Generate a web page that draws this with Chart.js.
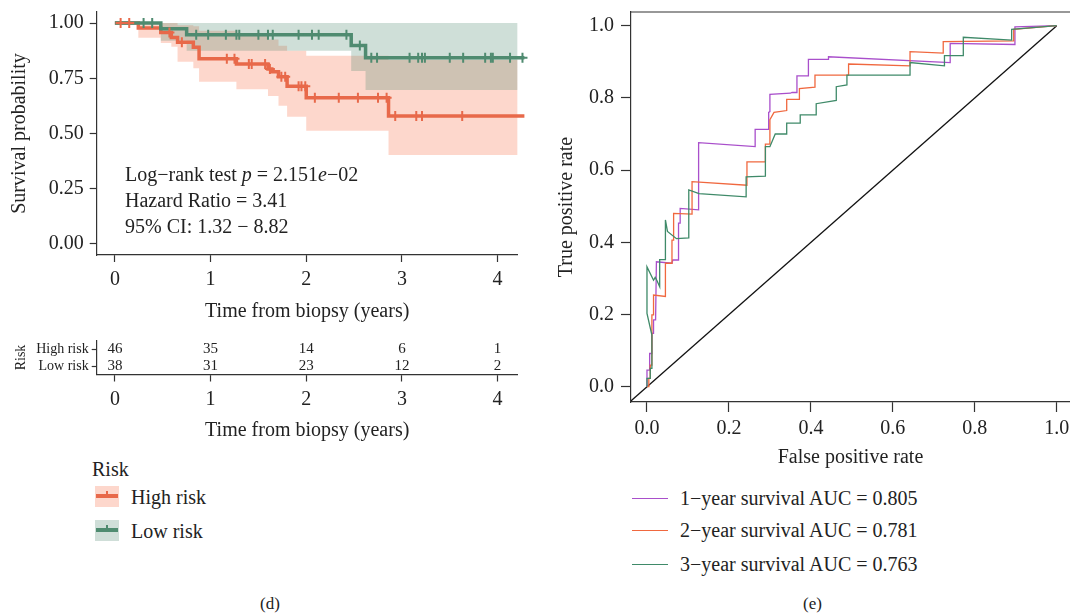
<!DOCTYPE html>
<html>
<head>
<meta charset="utf-8">
<script src="https://cdn.jsdelivr.net/npm/chart.js@4.4.0/dist/chart.umd.min.js"></script>
<style>
body{margin:0;background:#fff;width:1070px;height:616px;position:relative;overflow:hidden;font-family:"Liberation Serif",serif;color:#222}
canvas{position:absolute}
.t{position:absolute;white-space:nowrap;font-size:20px;line-height:20px}
.sw{position:absolute;width:24px;height:21px}
</style>
</head>
<body>
<canvas id="km" width="540" height="330" style="left:0;top:0"></canvas>
<canvas id="risk" width="540" height="120" style="left:0;top:330px"></canvas>
<canvas id="roc" width="515" height="470" style="left:555px;top:0"></canvas>

<div class="t" style="left:125px;top:164px">Log−rank test <i>p</i> = 2.151<i>e</i>−02</div>
<div class="t" style="left:125px;top:190px">Hazard Ratio = 3.41</div>
<div class="t" style="left:125px;top:216px">95% CI: 1.32 − 8.82</div>

<div class="t" style="left:92px;top:459px">Risk</div>
<div class="sw" style="left:95px;top:486px;background:rgb(253,215,204)">
  <div style="position:absolute;left:1px;right:1px;top:8px;height:4px;background:#E8694A"></div>
  <div style="position:absolute;left:11px;top:5px;width:2px;height:7px;background:#E8694A"></div>
</div>
<div class="t" style="left:131px;top:487px">High risk</div>
<div class="sw" style="left:95px;top:520px;background:rgb(207,222,216)">
  <div style="position:absolute;left:1px;right:1px;top:8px;height:4px;background:#4F8B70"></div>
  <div style="position:absolute;left:11px;top:5px;width:2px;height:7px;background:#4F8B70"></div>
</div>
<div class="t" style="left:131px;top:521px">Low risk</div>

<div style="position:absolute;left:632px;top:498px;width:36px;height:1.3px;background:#A94FCB"></div>
<div style="position:absolute;left:632px;top:530px;width:36px;height:1.3px;background:#F0683F"></div>
<div style="position:absolute;left:632px;top:564px;width:36px;height:1.3px;background:#3F8A69"></div>
<div class="t" style="left:680px;top:488px">1−year survival AUC = 0.805</div>
<div class="t" style="left:680px;top:520px">2−year survival AUC = 0.781</div>
<div class="t" style="left:680px;top:554px">3−year survival AUC = 0.763</div>

<div class="t" style="left:260px;top:594px;font-size:17px">(d)</div>
<div class="t" style="left:803px;top:594px;font-size:17px">(e)</div>

<script>
// Kaplan-Meier curves (time in years, survival probability after each step)
const highTimes = [0, 0.245, 0.48, 0.59, 0.655, 0.82, 0.88, 1.27, 1.60, 1.64, 1.71, 1.80, 2.00, 2.86, 4.28];
const highSurv  = [1, 0.978, 0.957, 0.935, 0.913, 0.89, 0.838, 0.815, 0.792, 0.78, 0.757, 0.714, 0.662, 0.579, 0.579];
const highCensor = [0.06, 0.15, 0.57, 0.70, 1.17, 1.25, 1.40, 1.43, 1.57, 1.62, 1.74, 1.78, 1.92, 1.95, 1.99,
                    2.09, 2.34, 2.54, 2.75, 2.84, 2.93, 3.15, 3.21, 3.63];
const highCiTimes = [0, 0.245, 0.48, 0.59, 0.655, 0.82, 0.88, 1.27, 1.60, 1.71, 1.80, 2.00, 2.86, 4.21];
const highCiUpper = [1, 1, 1, 1, 0.99, 0.985, 0.965, 0.95, 0.925, 0.897, 0.875, 0.852, 0.833, 0.833];
const highCiLower = [1, 0.934, 0.91, 0.893, 0.825, 0.795, 0.734, 0.70, 0.67, 0.626, 0.576, 0.513, 0.403, 0.403];

const lowTimes = [0, 0.48, 0.75, 2.47, 2.62, 4.28];
const lowSurv  = [1, 0.974, 0.947, 0.898, 0.843, 0.843];
const lowCensor = [0.30, 0.39, 0.85, 0.975, 1.16, 1.27, 1.30, 1.50, 1.60, 1.65, 1.92, 2.06, 2.13, 2.42, 2.56,
                   2.68, 2.74, 3.08, 3.17, 3.21, 3.24, 3.50, 3.64, 3.87, 3.93, 3.95, 4.13, 4.26];
const lowCiTimes = [0, 0.48, 0.75, 2.47, 2.62, 4.21];
const lowCiUpper = [1, 1, 1, 1, 1, 1];
const lowCiLower = [1, 0.92, 0.875, 0.783, 0.697, 0.697];

const kmXTicks = [0, 1, 2, 3, 4];
const kmYTicks = [0, 0.25, 0.5, 0.75, 1];

// numbers at risk
const riskGroups = ['High risk', 'Low risk'];
const riskTimes = [0, 1, 2, 3, 4];
const riskHigh = [46, 35, 14, 6, 1];
const riskLow = [38, 31, 23, 12, 2];

// time-dependent ROC curves
const roc1Fpr = [0, 0, 0.0065, 0.0065, 0.012, 0.012, 0.016, 0.016, 0.021, 0.023, 0.061, 0.063, 0.077, 0.077, 0.081, 0.081,
  0.126, 0.126, 0.264, 0.264, 0.297, 0.297, 0.30, 0.30, 0.35, 0.354, 0.366, 0.366, 0.394, 0.394, 0.443, 0.443, 0.74, 0.74,
  0.898, 0.898, 1];
const roc1Tpr = [0, 0.046, 0.046, 0.092, 0.092, 0.148, 0.148, 0.185, 0.185, 0.346, 0.342, 0.351, 0.351, 0.453, 0.453, 0.494,
  0.49, 0.676, 0.665, 0.713, 0.713, 0.76, 0.762, 0.81, 0.813, 0.815, 0.815, 0.861, 0.861, 0.907, 0.907, 0.914, 0.898, 0.951,
  0.948, 0.997, 1];
const roc2Fpr = [0, 0.0045, 0.0045, 0.008, 0.008, 0.012, 0.012, 0.016, 0.016, 0.045, 0.045, 0.061, 0.061, 0.065, 0.065, 0.11,
  0.11, 0.244, 0.244, 0.289, 0.289, 0.30, 0.30, 0.31, 0.341, 0.341, 0.372, 0.372, 0.41, 0.41, 0.492, 0.492, 0.642, 0.642,
  0.723, 0.723, 0.895, 0.895, 1];
const roc2Tpr = [0, 0, 0.023, 0.023, 0.06, 0.06, 0.199, 0.199, 0.254, 0.25, 0.342, 0.342, 0.406, 0.406, 0.48, 0.478,
  0.568, 0.558, 0.623, 0.623, 0.672, 0.672, 0.74, 0.76, 0.765, 0.796, 0.796, 0.826, 0.83, 0.863, 0.863, 0.894, 0.889, 0.928,
  0.924, 0.956, 0.958, 0.99, 1];
const roc3Fpr = [0, 0, 0.008, 0.008, 0.012, 0.012, 0, 0, 0.016, 0.02, 0.024, 0.031, 0.031, 0.045, 0.045, 0.05, 0.072,
  0.102, 0.102, 0.127, 0.242, 0.242, 0.289, 0.289, 0.30, 0.313, 0.341, 0.341, 0.374, 0.374, 0.413, 0.413, 0.462, 0.462,
  0.488, 0.488, 0.642, 0.642, 0.726, 0.726, 0.772, 0.772, 0.89, 0.89, 1];
const roc3Tpr = [0, 0.023, 0.023, 0.051, 0.051, 0.143, 0.203, 0.332, 0.295, 0.303, 0.295, 0.277, 0.352, 0.352, 0.462,
  0.43, 0.41, 0.412, 0.545, 0.535, 0.526, 0.581, 0.583, 0.665, 0.665, 0.70, 0.70, 0.73, 0.73, 0.753, 0.753, 0.784, 0.793,
  0.831, 0.836, 0.863, 0.863, 0.898, 0.889, 0.917, 0.917, 0.968, 0.96, 0.99, 1];
const rocTicks = [0, 0.2, 0.4, 0.6, 0.8, 1.0];

const RED = '#E8694A', GREEN = '#4F8B70';
const TXT = '#222', AX = '#333';
const FONT = '"Liberation Serif", serif';

function pts(xs, ys) { return xs.map((x, i) => ({x: x, y: ys[i]})); }
function survAt(times, surv, t) {
  let s = surv[0];
  for (let i = 0; i < times.length; i++) if (times[i] <= t) s = surv[i];
  return s;
}
function censorPts(cens, times, surv) { return cens.map(t => ({x: t, y: survAt(times, surv, t)})); }

Chart.defaults.font.family = FONT;
Chart.defaults.color = TXT;
Chart.defaults.animation = false;

// keep the plot box where the layout padding puts it (no extra room for end labels)
function noPad(s) { s.paddingLeft = 0; s.paddingRight = 0; s.paddingTop = 0; s.paddingBottom = 0; }

function axisX(min, max, ticks, fmt, tickLen, pad, titleText, titlePad, h) {
  return {
    type: 'linear', min: min, max: max,
    afterBuildTicks: a => { a.ticks = ticks.map(v => ({value: v})); },
    afterFit: s => { s.height = h; noPad(s); },
    grid: {drawOnChartArea: false, tickLength: tickLen, tickColor: AX, tickWidth: 1.2},
    border: {color: AX, width: 1.2},
    ticks: {font: {size: 20}, color: TXT, padding: pad, maxRotation: 0, autoSkip: false, callback: fmt},
    title: {display: true, text: titleText, font: {size: 20}, color: TXT, padding: {top: 0, bottom: titlePad}}
  };
}
function axisY(min, max, ticks, fmt, tickLen, pad, titleText, titlePad, w) {
  return {
    type: 'linear', min: min, max: max,
    afterBuildTicks: a => { a.ticks = ticks.map(v => ({value: v})); },
    afterFit: s => { s.width = w; noPad(s); },
    grid: {drawOnChartArea: false, tickLength: tickLen, tickColor: AX, tickWidth: 1.2},
    border: {color: AX, width: 1.2},
    ticks: {font: {size: 20}, color: TXT, padding: pad, autoSkip: false, callback: fmt},
    title: {display: true, text: titleText, font: {size: 20}, color: TXT, padding: {top: titlePad, bottom: 0}}
  };
}

// ---- Kaplan-Meier panel ----
new Chart(document.getElementById('km'), {
  type: 'line',
  data: {
    datasets: [
      {data: pts(highCiTimes, highCiUpper), stepped: true, fill: '+1', backgroundColor: 'rgba(250,130,95,0.32)',
       borderWidth: 0, pointRadius: 0, order: 10},
      {data: pts(highCiTimes, highCiLower), stepped: true, fill: false, borderWidth: 0, pointRadius: 0, order: 10},
      {data: pts(lowCiTimes, lowCiUpper), stepped: true, fill: '+1', backgroundColor: 'rgba(70,130,105,0.26)',
       borderWidth: 0, pointRadius: 0, order: 9},
      {data: pts(lowCiTimes, lowCiLower), stepped: true, fill: false, borderWidth: 0, pointRadius: 0, order: 9},
      {data: pts(highTimes, highSurv), stepped: true, borderColor: RED, borderWidth: 3.5, pointRadius: 0,
       fill: false, clip: false, order: 4},
      {data: pts(lowTimes, lowSurv), stepped: true, borderColor: GREEN, borderWidth: 3.5, pointRadius: 0,
       fill: false, clip: false, order: 3},
      {data: censorPts(highCensor, highTimes, highSurv), showLine: false, pointStyle: 'cross', pointRadius: 5,
       pointBorderWidth: 2, pointBorderColor: RED, clip: false, order: 2},
      {data: censorPts(lowCensor, lowTimes, lowSurv), showLine: false, pointStyle: 'cross', pointRadius: 5,
       pointBorderWidth: 2, pointBorderColor: GREEN, clip: false, order: 1}
    ]
  },
  options: {
    responsive: false,
    layout: {padding: {top: 12, right: 22.3, left: 0, bottom: 0}},
    plugins: {legend: {display: false}, tooltip: {enabled: false}},
    scales: {
      x: axisX(-0.19, 4.21, kmXTicks, v => String(v), 7, 6, 'Time from biopsy (years)', 6, 75),
      y: axisY(-0.05, 1.05, kmYTicks, v => v.toFixed(2), 7, 6, 'Survival probability', 8, 96.7)
    }
  }
});

// ---- numbers at risk ----
const riskNumbers = {
  id: 'riskNumbers',
  afterDatasetsDraw(chart) {
    const {ctx, scales: {x, y}} = chart;
    ctx.save();
    ctx.font = '15px ' + FONT;
    ctx.fillStyle = TXT;
    ctx.textAlign = 'center';
    ctx.textBaseline = 'middle';
    [riskHigh, riskLow].forEach((row, r) => {
      row.forEach((n, i) => ctx.fillText(String(n), x.getPixelForValue(riskTimes[i]), y.getPixelForValue(r)));
    });
    ctx.restore();
  }
};
new Chart(document.getElementById('risk'), {
  type: 'line',
  data: {labels: riskGroups, datasets: [{data: []}]},
  options: {
    responsive: false,
    layout: {padding: {top: 10.5, right: 22.3, left: 0, bottom: 0}},
    plugins: {legend: {display: false}, tooltip: {enabled: false}},
    scales: {
      x: axisX(-0.19, 4.21, riskTimes, v => String(v), 7, 6, 'Time from biopsy (years)', 7, 75.5),
      y: {
        type: 'category', labels: riskGroups, offset: true,
        afterFit: s => { s.width = 96.7; noPad(s); },
        grid: {drawOnChartArea: false, tickLength: 5, tickColor: AX, tickWidth: 1.2, offset: false},
        border: {color: AX, width: 1.2},
        ticks: {font: {size: 14}, color: TXT, padding: 3, autoSkip: false},
        title: {display: true, text: 'Risk', font: {size: 14}, color: TXT, padding: {top: 13, bottom: 0}}
      }
    }
  },
  plugins: [riskNumbers]
});

// ---- ROC panel ----
const boxTop = {
  id: 'boxTop',
  afterDraw(chart) {
    const {ctx, chartArea: a} = chart;
    ctx.save();
    ctx.strokeStyle = AX;
    ctx.lineWidth = 1.2;
    ctx.beginPath();
    ctx.moveTo(a.left, a.top);
    ctx.lineTo(a.right, a.top);
    ctx.stroke();
    ctx.restore();
  }
};
new Chart(document.getElementById('roc'), {
  type: 'line',
  data: {
    datasets: [
      {data: pts(roc1Fpr, roc1Tpr), borderColor: '#A94FCB', borderWidth: 1.3, pointRadius: 0, fill: false, order: 3},
      {data: pts(roc2Fpr, roc2Tpr), borderColor: '#F0683F', borderWidth: 1.3, pointRadius: 0, fill: false, order: 2},
      {data: pts(roc3Fpr, roc3Tpr), borderColor: '#3F8A69', borderWidth: 1.3, pointRadius: 0, fill: false, order: 1},
      {data: [{x: -0.05, y: -0.05}, {x: 1, y: 1}], borderColor: '#111', borderWidth: 1.3, pointRadius: 0, fill: false, order: 4}
    ]
  },
  options: {
    responsive: false,
    layout: {padding: {top: 12, right: 0, left: 0, bottom: 0}},
    plugins: {legend: {display: false}, tooltip: {enabled: false}},
    scales: {
      x: axisX(-0.039, 1.0324, rocTicks, v => v.toFixed(1), 10, 5, 'False positive rate', 0, 68),
      y: axisY(-0.0424, 1.038, rocTicks, v => v.toFixed(1), 10, 7, 'True positive rate', 0, 76)
    }
  },
  plugins: [boxTop]
});
</script>
</body>
</html>
